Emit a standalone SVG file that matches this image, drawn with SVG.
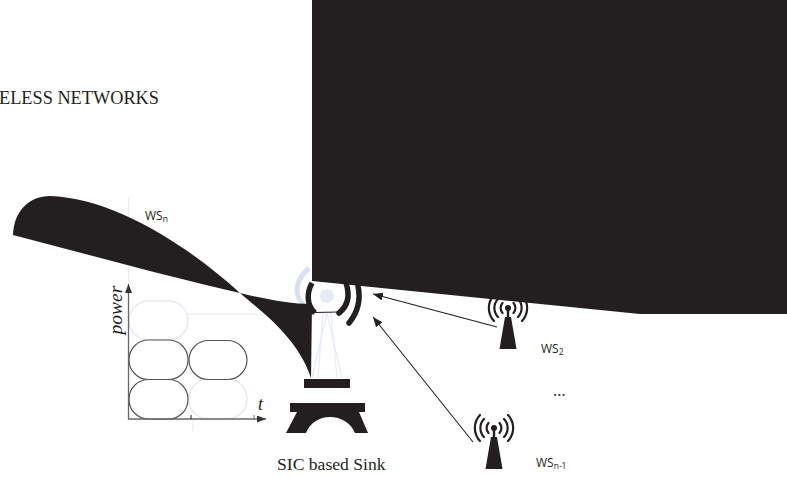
<svg xmlns="http://www.w3.org/2000/svg" width="787" height="477" viewBox="0 0 787 477">
<style>
.k{fill:#231f20}
.s{font-family:"Liberation Serif",serif;fill:#231f20}
.c{font-family:"Open Sans",sans-serif;font-size:12px;fill:#231f20}
.sub{font-size:8.5px}
.pill{fill:#fff;stroke:#555;stroke-width:1.2}
.pale{fill:#fff;stroke:#e4eaf5;stroke-width:1.5}
.pl{fill:none;stroke:#e6ebf6;stroke-width:1.2}
.w{fill:none;stroke:#231f20;stroke-width:2.2;stroke-linecap:round}
.ar{stroke:#231f20;stroke-width:1.1;fill:none;marker-end:url(#a)}
</style>
<defs>
<marker id="a" markerUnits="userSpaceOnUse" markerWidth="11" markerHeight="9" refX="10" refY="4" orient="auto"><path d="M0 0L10 4L0 8z" fill="#231f20"/></marker>
<marker id="b" markerUnits="userSpaceOnUse" markerWidth="10" markerHeight="8" refX="9" refY="3.5" orient="auto"><path d="M0 0L9 3.5L0 7z" fill="#333"/></marker>
<g id="ant">
<path class="k" d="M-1.200 -8H1.200V0H3L8.500 32H-8.500L-3 0H-1.200z"/>
<circle class="k" cy="-9" r="3"/>
<path class="w" d="M-5.500 -14A7.500 7.500 0 0 0 -5.500 -4M5.500 -14A7.500 7.500 0 0 1 5.500 -4M-10 -18A13 13 0 0 0 -10 0M10 -18A13 13 0 0 1 10 0M-14 -22A19 19 0 0 0 -14 4M14 -22A19 19 0 0 1 14 4"/>
</g>
</defs>
<text class="s" x="-1" y="104" font-size="18.300">ELESS NETWORKS</text>
<g id="chart">
<path class="pl" d="M128.500 197V285M188 314H262M193 419V431"/>
<rect class="pale" x="129" y="301" width="59" height="39" rx="19.500"/>
<rect class="pale" x="189" y="379" width="58" height="40" rx="19.500"/>
<rect class="pill" x="129" y="340" width="59" height="39.500" rx="19.500"/>
<rect class="pill" x="189" y="340.500" width="58" height="39" rx="19.500"/>
<rect class="pill" x="129" y="379.500" width="59" height="39.500" rx="19.500"/>
<path d="M128.500 419V284" stroke="#666" stroke-width="1.300" fill="none" marker-end="url(#b)"/>
<path d="M128 419H266" stroke="#666" stroke-width="1.300" fill="none" marker-end="url(#b)"/>
<path d="M191 415V419" stroke="#231f20"/>
<path d="M254 415V419" stroke="#777"/>
<text class="s" transform="translate(122,334.500) rotate(-90)" font-size="19.500" font-style="italic">power</text>
<text class="s" x="258" y="410" font-size="18" font-style="italic">t</text>
</g>
<g id="sink">
<circle cx="327" cy="296" r="7" fill="#e6ecf7"/>
<path d="M309 268C296 279 291 295 307 309" fill="none" stroke="#d8e1f2" stroke-width="5"/>
<path d="M327 313L312 378M327 313L342 378M323 313L318 378M331 313L337 378" class="pl"/>
<rect class="k" x="304" y="379" width="46" height="9"/>
<path class="k" d="M290 403H365V412H359L368 433H355C351 423 341 417 330 417C319 417 310 423 306 433H286L297 412H290z"/>
<path d="M312 283C307 292 306 305 315 313" fill="none" stroke="#231f20" stroke-width="5.500"/>
<path d="M315 312.500L338 312" fill="none" stroke="#231f20" stroke-width="1"/>
<path d="M346 283C350 295 349 305 339 313" fill="none" stroke="#231f20" stroke-width="5.500" stroke-linecap="round"/>
<path d="M358 286C361 300 358 312 349 323" fill="none" stroke="#231f20" stroke-width="5.500" stroke-linecap="round"/>
<text class="s" x="277" y="470" font-size="17.600">SIC based Sink</text>
</g>
<g id="ws2">
<use href="#ant" x="508" y="317"/>
<text class="c" x="541" y="353">WS<tspan class="sub" dy="2">2</tspan></text>
</g>
<g id="wsn1">
<use href="#ant" x="494" y="437"/>
<text class="c" x="536" y="467">WS<tspan class="sub" dy="2">n-1</tspan></text>
</g>
<g id="wsn">
<text class="c" x="145" y="220">WS<tspan class="sub" dy="2">n</tspan></text>
<path class="k" d="M13 235C14 210 30 196 50 196C112 198 185 243 240 293C262 312 298 338 311 378L312 304C290 304 265 299 240 293C170 277 90 255 13 235z"/>
</g>
<text class="c" x="553" y="396" style="font-size:16px">...</text>
<g id="connectors">
<path class="ar" d="M497 327L373 294"/>
<path class="ar" d="M473 442L373 317"/>
</g>
<path id="blob" class="k" d="M312 0H787V314H640L312 281z"/>
</svg>
